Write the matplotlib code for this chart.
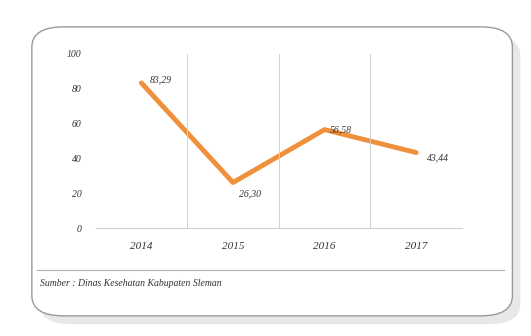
import matplotlib.pyplot as plt
from matplotlib.patches import FancyBboxPatch

years = ['2014', '2015', '2016', '2017']
values = [83.29, 26.30, 56.58, 43.44]
labels = ['83,29', '26,30', '56,58', '43,44']
yticks = [0, 20, 40, 60, 80, 100]
source = 'Sumber : Dinas Kesehatan Kabupaten Sleman'

plt.rcParams['font.family'] = ['Liberation Serif', 'DejaVu Serif']

fig = plt.figure(figsize=(5.31, 3.36), dpi=100)
fig.patch.set_facecolor('white')

# card shadow + card (kept behind the axes)
shadow = FancyBboxPatch((0.075, 0.035), 0.905, 0.86, boxstyle='round,pad=0,rounding_size=0.06',
                        transform=fig.transFigure, fc='#d9d9d9', ec='none', alpha=0.6, zorder=-3)
card = FancyBboxPatch((0.06, 0.06), 0.905, 0.86, boxstyle='round,pad=0,rounding_size=0.06',
                      transform=fig.transFigure, fc='white', ec='#9a9a9a', lw=1.0, zorder=-2)
fig.patches.extend([shadow, card])
fig.add_artist(plt.Line2D([0.07, 0.95], [0.195, 0.195], transform=fig.transFigure,
                          color='#b0b0b0', lw=0.8))

ax = fig.add_axes([0.18, 0.32, 0.69, 0.52])
ax.set_facecolor('none')
x = range(len(years))
ax.plot(x, values, color='#f0903a', lw=3.5, solid_capstyle='round', solid_joinstyle='round')

offsets = [(6, 2), (4, -8), (4, 0), (8, -4)]
for i, (v, t) in enumerate(zip(values, labels)):
    ax.annotate(t, (i, v), xytext=offsets[i], textcoords='offset points',
                fontsize=7, style='italic', color='#333333', va='center')

ax.set_xlim(-0.5, 3.5)
ax.set_ylim(0, 100)
ax.set_yticks(yticks)
ax.set_xticks(list(x))
ax.set_xticklabels(years, fontsize=8, style='italic', color='#333333')
ax.set_yticklabels([str(t) for t in yticks], fontsize=7, style='italic', color='#333333')
for b in [0.5, 1.5, 2.5]:
    ax.axvline(b, color='#d0d0d0', lw=0.7)
for s in ['top', 'right', 'left']:
    ax.spines[s].set_visible(False)
ax.spines['bottom'].set_color('#cfcfcf')
ax.tick_params(length=0, pad=10)

fig.text(0.075, 0.15, source, fontsize=7, style='italic', color='#333333')

fig.savefig('out.png', dpi=100)
